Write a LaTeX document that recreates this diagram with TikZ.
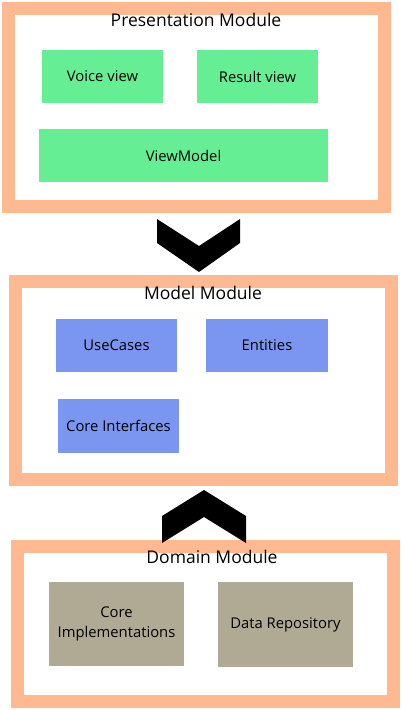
\documentclass[tikz,border=0pt]{standalone}
\usepackage{fontspec}
\setmainfont{Open Sans}
\definecolor{frameor}{RGB}{255,185,145}
\definecolor{viewgreen}{RGB}{102,238,148}
\definecolor{modelblue}{RGB}{123,150,240}
\definecolor{domtan}{RGB}{176,170,148}
\begin{document}
\begin{tikzpicture}[x=1pt,y=-1pt,
  frame/.style={draw=frameor,line width=13pt,fill=white,inner sep=0pt,rectangle},
  title/.style={font=\fontsize{17.5}{21}\selectfont,inner sep=0pt},
  comp/.style={rectangle,inner sep=0pt,font=\fontsize{14.8}{20}\selectfont,align=center},
  vbox/.style={comp,fill=viewgreen},
  mbox/.style={comp,fill=modelblue},
  dbox/.style={comp,fill=domtan},
  chev/.style={fill=black}
]
\useasboundingbox (0,0) rectangle (402,710);
% frames
\node[frame,minimum width=376pt,minimum height=197.5pt] (pres) at (196.5,107.25) {};
\node[frame,minimum width=376.5pt,minimum height=197.5pt] (model) at (203.25,380.25) {};
\node[frame,minimum width=376pt,minimum height=155pt] (dom) at (205.5,624) {};
% titles
\node[title] (prest) at (196,20) {Presentation Module};
\node[title] (modelt) at (203,293) {Model Module};
\node[title] (domt) at (212,557) {Domain Module};
% presentation
\node[vbox,minimum width=121pt,minimum height=53pt] (voice) at (102.5,76.5) {Voice view};
\node[vbox,minimum width=121pt,minimum height=53pt] (result) at (257.5,76.5) {Result view};
\node[vbox,minimum width=289pt,minimum height=53pt] (vm) at (183.5,155.5) {ViewModel};
% model
\node[mbox,minimum width=121pt,minimum height=53pt] (uc) at (116.5,345.5) {UseCases};
\node[mbox,minimum width=122pt,minimum height=53pt] (ent) at (267,345.5) {Entities};
\node[mbox,minimum width=121pt,minimum height=54pt] (ci) at (118.5,426) {Core Interfaces};
% domain
\node[dbox,minimum width=135pt,minimum height=84pt] (cimpl) at (116.5,624) {Core\\Implementations};
\node[dbox,minimum width=135pt,minimum height=85pt] (repo) at (285.5,624.5) {Data Repository};
% chevrons
\coordinate (c1) at (199,219);
\fill[chev] (c1) ++(-42,0) -- ++(42,27) -- ++(41,-27) -- ++(0,24) -- ++(-41,29) -- ++(-42,-29) -- cycle;
\coordinate (c2) at (204,490);
\fill[chev] (c2) ++(-42,53) -- ++(42,-26) -- ++(42,26) -- ++(0,-27) -- ++(-42,-26) -- ++(-42,26) -- cycle;
\end{tikzpicture}
\end{document}
